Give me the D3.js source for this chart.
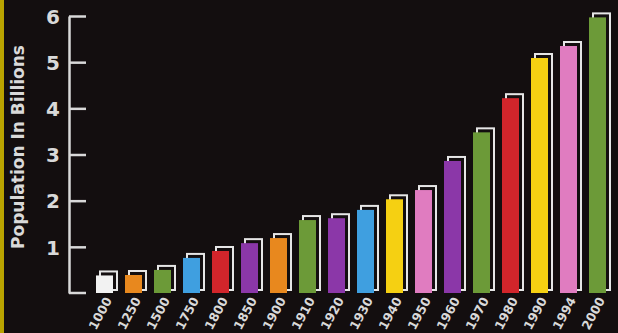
<!DOCTYPE html>
<html>
<head>
<meta charset="utf-8">
<script src="https://cdn.jsdelivr.net/npm/d3@7"></script>
<style>
  body { margin: 0; background: #130e0f; }
  svg { display: block; }
</style>
</head>
<body>
<svg id="chart" width="618" height="333"></svg>
<script>
// world population by year
var years = ["1000", "1250", "1500", "1750", "1800", "1850", "1900", "1910", "1920",
             "1930", "1940", "1950", "1960", "1970", "1980", "1990", "1994", "2000"];
var population = [0.38, 0.39, 0.5, 0.76, 0.91, 1.08, 1.19, 1.58, 1.62,
                  1.8, 2.03, 2.23, 2.86, 3.48, 4.22, 5.09, 5.35, 5.97];
var barColors = ["#f2f2f2", "#e8881e", "#6c9a38", "#3f9fe0", "#d1252b", "#8b37a8", "#e8881e", "#6c9a38", "#8b37a8",
                 "#3f9fe0", "#f5d012", "#e07cc0", "#8b37a8", "#6c9a38", "#d1252b", "#f5d012", "#e07cc0", "#6c9a38"];
var yTicks = [0, 1, 2, 3, 4, 5, 6];

var bg = "#130e0f", ink = "#d9d9d9";
var font = "DejaVu Sans";

var svg = d3.select("#chart");

// yellow strip on the left edge
svg.append("rect").attr("x", 0).attr("y", 0).attr("width", 4).attr("height", 333)
  .style("fill", "#b9a300");

var x = d3.scaleBand().domain(years).range([96, 606]).paddingInner(0.414).paddingOuter(0),
    y = d3.scaleLinear().domain([0, 6]).range([293, 16]);

//Y axis, ticks pointing right, labels on the left
var yAxis = svg.append("g")
  .attr("transform", "translate(69,0)")
  .call(d3.axisRight(y).tickValues(yTicks.slice(1)).tickFormat(d3.format("d")).tickSize(17).tickSizeOuter(0));
yAxis.select(".domain").style("stroke", ink).style("stroke-width", 2.5);
yAxis.selectAll(".tick line").style("stroke", ink).style("stroke-width", 2.5);
yAxis.selectAll(".tick text")
  .attr("x", -9).attr("dy", "0.36em")
  .style("text-anchor", "end")
  .style("fill", ink)
  .style("font-family", font)
  .style("font-weight", "bold")
  .style("font-size", "20px");
// bottom tick at zero
yAxis.append("line").attr("x1", 0).attr("x2", 17).attr("y1", y(0)).attr("y2", y(0))
  .style("stroke", ink).style("stroke-width", 2.5);

//Label for Y axis
svg.append("text")
  .attr("transform", "translate(24," + 147 + ") rotate(-90)")
  .style("text-anchor", "middle")
  .style("fill", ink)
  .style("font-family", font)
  .style("font-weight", "bold")
  .style("font-size", "17px")
  .text("Population In Billions");

var off = 4;
var bars = svg.selectAll(".bar").data(years).enter().append("g").attr("class", "bar");

// white back edge, offset up and right
bars.append("rect")
  .attr("x", function(d){ return x(d) + off; })
  .attr("y", function(d, i){ return y(population[i]) - off; })
  .attr("width", x.bandwidth())
  .attr("height", function(d, i){ return y(0) - y(population[i]) + 1; })
  .style("fill", bg)
  .style("stroke", "#e6e6e6")
  .style("stroke-width", 2);

bars.append("rect")
  .attr("x", function(d){ return x(d); })
  .attr("y", function(d, i){ return y(population[i]); })
  .attr("width", x.bandwidth())
  .attr("height", function(d, i){ return y(0) - y(population[i]); })
  .style("fill", function(d, i){ return barColors[i]; });

// year labels, slanted
svg.selectAll(".year").data(years).enter().append("text")
  .attr("class", "year")
  .attr("transform", function(d){ return "translate(" + (x(d) + x.bandwidth() / 2 + 4) + ",298) rotate(-62)"; })
  .attr("dy", "0.35em")
  .style("text-anchor", "end")
  .style("fill", ink)
  .style("font-family", font)
  .style("font-weight", "bold")
  .style("font-size", "12.5px")
  .text(function(d){ return d; });
</script>
</body>
</html>
